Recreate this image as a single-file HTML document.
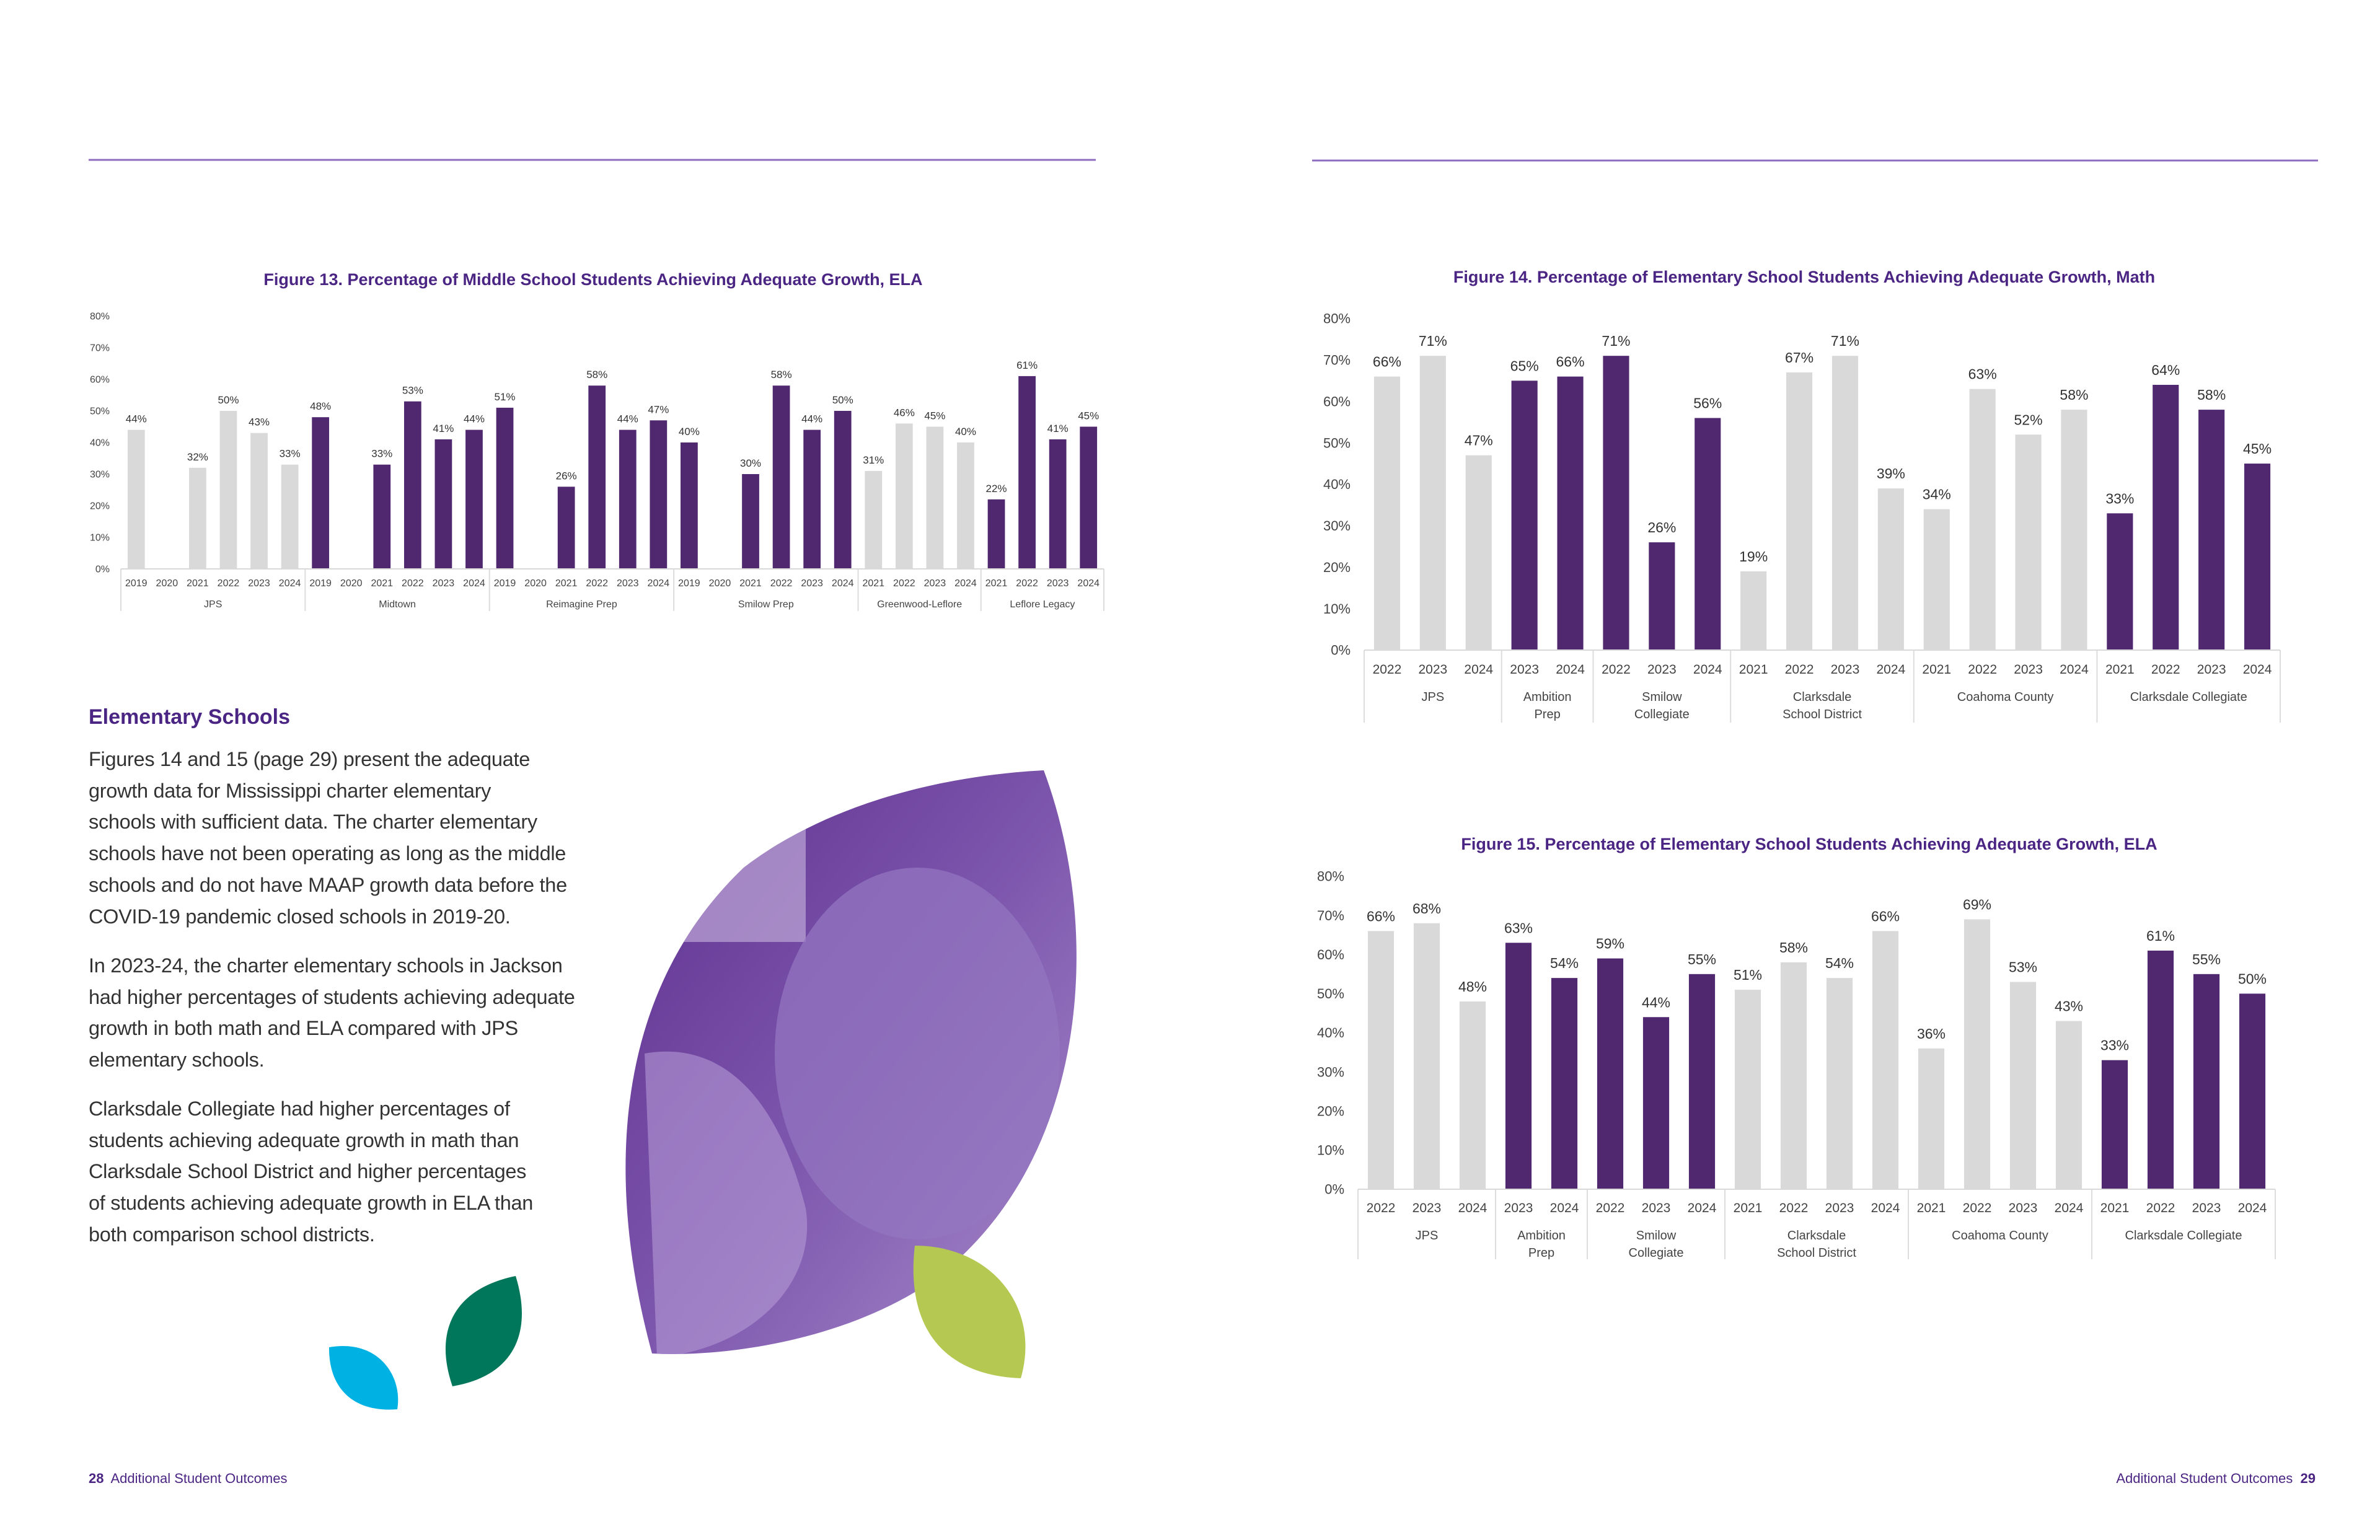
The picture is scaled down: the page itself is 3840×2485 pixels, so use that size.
<!DOCTYPE html>
<html><head><meta charset="utf-8">
<style>
html,body{margin:0;padding:0;background:#fff;}
#page{position:relative;width:3840px;height:2485px;overflow:hidden;font-family:"Liberation Sans",sans-serif;}
.body-text{position:absolute;left:143px;color:#333;font-size:32.5px;line-height:50.7px;white-space:nowrap;letter-spacing:-0.3px;}
svg text{font-family:"Liberation Sans",sans-serif;}
</style></head>
<body>
<div id="page">
<svg id="art" width="3840" height="2485" style="position:absolute;left:0;top:0">
  <line x1="143" y1="258" x2="1768" y2="258" stroke="#8e6cc0" stroke-width="3"/>
  <line x1="2117" y1="259" x2="3740" y2="259" stroke="#8e6cc0" stroke-width="3"/>
  <defs>
    <linearGradient id="photoGrad" x1="0" y1="0" x2="1" y2="1">
      <stop offset="0" stop-color="#5e2f8f"/>
      <stop offset="0.5" stop-color="#7c55ac"/>
      <stop offset="1" stop-color="#a88ccc"/>
    </linearGradient>
    <clipPath id="leafClip"><path d="M1684,1243 C1780,1500 1760,1880 1500,2070 C1350,2170 1150,2190 1052,2184 C975,1900 990,1600 1200,1400 C1350,1285 1550,1250 1684,1243 Z"/></clipPath>
  </defs>
  <g>
    <path d="M1684,1243 C1780,1500 1760,1880 1500,2070 C1350,2170 1150,2190 1052,2184 C975,1900 990,1600 1200,1400 C1350,1285 1550,1250 1684,1243 Z" fill="url(#photoGrad)"/>
    <g clip-path="url(#leafClip)">
      <rect x="1000" y="1240" width="300" height="280" fill="#c9b8e0" opacity="0.6"/>
      <ellipse cx="1480" cy="1700" rx="230" ry="300" fill="#9375c0" opacity="0.75"/>
      <path d="M1040,1700 C1150,1680 1250,1750 1300,1950 C1320,2080 1200,2180 1060,2190 Z" fill="#b49ad6" opacity="0.6"/>
    </g>
  </g>
  <path d="M1476,2010 C1600,2010 1680,2110 1647,2224 C1530,2220 1460,2150 1476,2010 Z" fill="#b5c952"/>
  <path d="M832,2059 C860,2150 830,2220 730,2237 C700,2150 730,2080 832,2059 Z" fill="#00775a"/>
  <path d="M531,2174 C610,2160 650,2220 641,2274 C570,2280 530,2240 531,2174 Z" fill="#00b2e3"/>
  <g id="fig13"></g>
  <g id="fig14"></g>
  <g id="fig15"></g>
</svg>

<div style="position:absolute;left:143px;top:1138px;font-size:34px;font-weight:bold;color:#4b2583;">Elementary Schools</div>
<div class="body-text" style="top:1200px">Figures 14 and 15 (page 29) present the adequate<br>growth data for Mississippi charter elementary<br>schools with sufficient data. The charter elementary<br>schools have not been operating as long as the middle<br>schools and do not have MAAP growth data before the<br>COVID-19 pandemic closed schools in 2019-20.</div>
<div class="body-text" style="top:1533px">In 2023-24, the charter elementary schools in Jackson<br>had higher percentages of students achieving adequate<br>growth in both math and ELA compared with JPS<br>elementary schools.</div>
<div class="body-text" style="top:1764px">Clarksdale Collegiate had higher percentages of<br>students achieving adequate growth in math than<br>Clarksdale School District and higher percentages<br>of students achieving adequate growth in ELA than<br>both comparison school districts.</div>

<div style="position:absolute;left:143px;top:2373px;font-size:22px;color:#4b2583;"><b>28</b>&nbsp; Additional Student Outcomes</div>
<div style="position:absolute;right:104px;top:2373px;font-size:22px;color:#4b2583;">Additional Student Outcomes&nbsp; <b>29</b></div>
</div>

<script>
const fig13Groups = ['JPS','Midtown','Reimagine Prep','Smilow Prep','Greenwood-Leflore','Leflore Legacy'];
const fig13GroupSizes = [6,6,6,6,4,4];
const fig13Charter = [false,true,true,true,false,true];
const fig13Years = ['2019','2020','2021','2022','2023','2024','2019','2020','2021','2022','2023','2024','2019','2020','2021','2022','2023','2024','2019','2020','2021','2022','2023','2024','2021','2022','2023','2024','2021','2022','2023','2024'];
const fig13Values = [44,null,32,50,43,33, 48,null,33,53,41,44, 51,null,26,58,44,47, 40,null,30,58,44,50, 31,46,45,40, 22,61,41,45];

const fig14Groups = ['JPS','Ambition\nPrep','Smilow\nCollegiate','Clarksdale\nSchool District','Coahoma County','Clarksdale Collegiate'];
const fig14GroupSizes = [3,2,3,4,4,4];
const fig14Charter = [false,true,true,false,false,true];
const fig14Years = ['2022','2023','2024','2023','2024','2022','2023','2024','2021','2022','2023','2024','2021','2022','2023','2024','2021','2022','2023','2024'];
const fig14Values = [66,71,47, 65,66, 71,26,56, 19,67,71,39, 34,63,52,58, 33,64,58,45];

const fig15Groups = ['JPS','Ambition\nPrep','Smilow\nCollegiate','Clarksdale\nSchool District','Coahoma County','Clarksdale Collegiate'];
const fig15GroupSizes = [3,2,3,4,4,4];
const fig15Charter = [false,true,true,false,false,true];
const fig15Years = ['2022','2023','2024','2023','2024','2022','2023','2024','2021','2022','2023','2024','2021','2022','2023','2024','2021','2022','2023','2024'];
const fig15Values = [66,68,48, 63,54, 59,44,55, 51,58,54,66, 36,69,53,43, 33,61,55,50];

const yTicks = [0,10,20,30,40,50,60,70,80];

const NS = 'http://www.w3.org/2000/svg';
function mk(tag, attrs, parent){
  const e = document.createElementNS(NS, tag);
  for (const k in attrs) e.setAttribute(k, attrs[k]);
  parent.appendChild(e);
  return e;
}

function drawChart(g, title, groups, sizes, charter, years, values, L){
  const n = years.length;
  const cw = (L.x1 - L.x0) / n;
  const xc = i => L.x0 + cw * (i + 0.5);
  const ys = v => L.y0 - (L.y0 - L.y80) * v / 80;
  const t = mk('text', {x: L.tx, y: L.ty, 'text-anchor':'middle', 'font-size': L.tf, 'font-weight':'bold', fill:'#4b2583'}, g);
  t.textContent = title;
  
  
  yTicks.forEach(v => {
    const lb = mk('text', {x: L.x0 - L.ylGap, y: ys(v) + L.yf*0.35, 'text-anchor':'end', 'font-size': L.yf, fill:'#444'}, g);
    lb.textContent = v + '%';
    
    
  });
  const colorOf = [];
  sizes.forEach((s, k) => { for (let j = 0; j < s; j++) colorOf.push(charter[k] ? '#4f2870' : '#d9d9d9'); });
  const bw = cw * L.bwr;
  values.forEach((v, i) => {
    if (v !== null) {
      const r = mk('rect', {x: xc(i) - bw/2, y: ys(v), width: bw, height: L.y0 - ys(v), fill: colorOf[i]}, g);
      
      
      const vl = mk('text', {x: xc(i), y: ys(v) - L.vGap, 'text-anchor':'middle', 'font-size': L.vf, fill:'#333'}, g);
      vl.textContent = v + '%';
      
      
    }
    const yl = mk('text', {x: xc(i), y: L.yearY, 'text-anchor':'middle', 'font-size': L.xf, fill:'#444'}, g);
    yl.textContent = years[i];
    
    
  });
  const ax = mk('line', {x1: L.x0, y1: L.y0, x2: L.x1, y2: L.y0, stroke:'#d9d9d9', 'stroke-width': 2}, g);
  
  
  let start = 0;
  sizes.forEach((s, k) => {
    const xa = L.x0 + start * cw, xb = L.x0 + (start + s) * cw;
    const sep = mk('line', {x1: xa, y1: L.y0, x2: xa, y2: L.sepB, stroke:'#dcdcdc', 'stroke-width': 2}, g);
    
    
    groups[k].split('\n').forEach((ln, li) => {
      const gl = mk('text', {x: (xa + xb)/2, y: L.grpY + li * L.grpLH, 'text-anchor':'middle', 'font-size': L.gf, fill:'#444'}, g);
      gl.textContent = ln;
      
      
    });
    start += s;
  });
  const endSep = mk('line', {x1: L.x1, y1: L.y0, x2: L.x1, y2: L.sepB, stroke:'#dcdcdc', 'stroke-width': 2}, g);
  
  
}

drawChart(document.getElementById('fig13'),
  'Figure 13. Percentage of Middle School Students Achieving Adequate Growth, ELA',
  fig13Groups, fig13GroupSizes, fig13Charter, fig13Years, fig13Values,
  {x0:195, x1:1781, y0:918, y80:510, tx:957, ty:460, tf:27, ylGap:18, yf:16, vf:17, vGap:12, xf:16, bwr:0.56, yearY:946, grpY:980, grpLH:26, gf:16, sepB:986});

drawChart(document.getElementById('fig14'),
  'Figure 14. Percentage of Elementary School Students Achieving Adequate Growth, Math',
  fig14Groups, fig14GroupSizes, fig14Charter, fig14Years, fig14Values,
  {x0:2201, x1:3679, y0:1049, y80:514, tx:2911, ty:456, tf:27, ylGap:22, yf:22, vf:23, vGap:16, xf:21, bwr:0.57, yearY:1087, grpY:1131, grpLH:28, gf:20, sepB:1166});

drawChart(document.getElementById('fig15'),
  'Figure 15. Percentage of Elementary School Students Achieving Adequate Growth, ELA',
  fig15Groups, fig15GroupSizes, fig15Charter, fig15Years, fig15Values,
  {x0:2191, x1:3671, y0:1919, y80:1414, tx:2919, ty:1371, tf:27, ylGap:22, yf:22, vf:23, vGap:16, xf:21, bwr:0.57, yearY:1956, grpY:2000, grpLH:28, gf:20, sepB:2032});
</script>
</body></html>
